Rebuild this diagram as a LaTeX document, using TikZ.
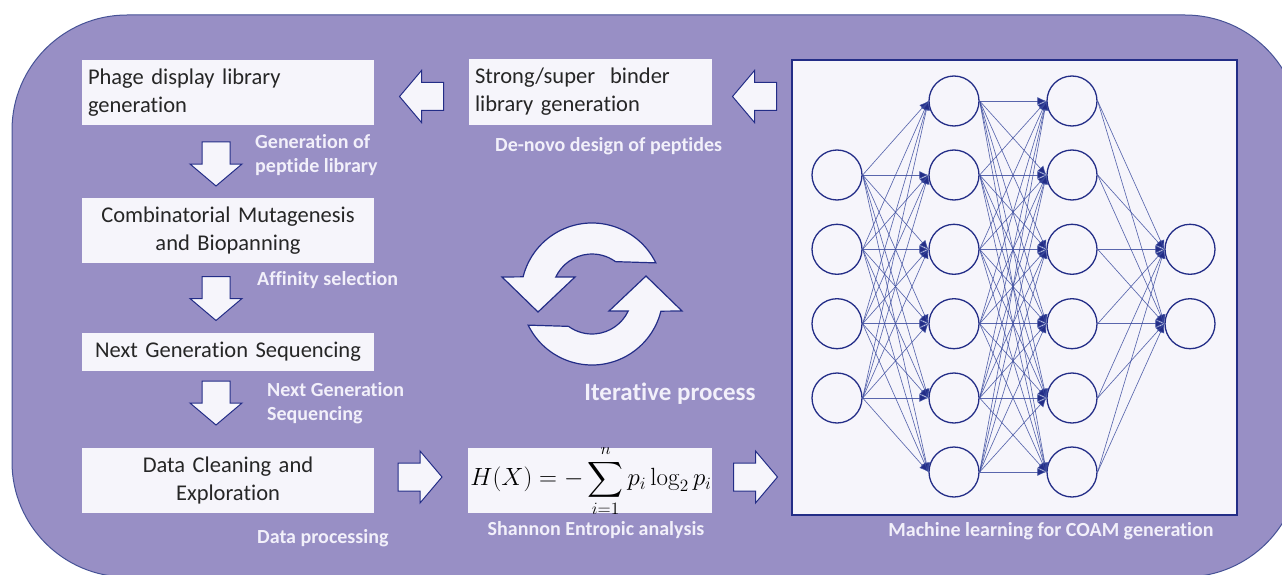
\documentclass[tikz,border=0pt]{standalone}
\usepackage{exscale}
\usepackage{graphicx}
\usepackage[no-math]{fontspec}
\setmainfont{Carlito}[Ligatures=NoCommon]
\usetikzlibrary{arrows.meta,calc}
\definecolor{bgpurple}{RGB}{152,143,197}
\definecolor{bgedge}{RGB}{70,82,150}
\definecolor{boxwhite}{RGB}{246,245,251}
\definecolor{navy}{RGB}{35,45,135}
\definecolor{edgeblue}{RGB}{62,78,160}
\definecolor{labelwhite}{RGB}{242,240,250}
\definecolor{txtgray}{RGB}{38,38,38}
\tikzset{
  x=1pt, y=1pt,
  wbox/.style={fill=boxwhite, draw=none, inner sep=0pt, text=txtgray,
    font=\fontsize{22.5}{28}\selectfont},
  lbl/.style={text=labelwhite, font=\bfseries\fontsize{20}{24}\selectfont,
    inner sep=0pt, align=left},
  neuron/.style={circle, draw=navy, line width=1.3pt, fill=boxwhite,
    minimum size=50pt, inner sep=0pt},
  syn/.style={draw=edgeblue, line width=0.65pt, draw opacity=0.85,
    -{Latex[length=9pt,width=8pt,fill=navy]}},
  blk/.style={fill=boxwhite, draw=navy, line width=1pt, line join=miter},
  pics/barrow/.style={code={
    \draw[blk] (-22,-14) -- (0,-14) -- (0,-26) -- (22,0) -- (0,26) -- (0,14) -- (-22,14) -- cycle;}},
}
\begin{document}
\begin{tikzpicture}
\useasboundingbox (0,0) rectangle (1282,-575);
\clip (0,0) rectangle (1282,-575);
% background panel
\draw[fill=bgpurple, draw=bgedge, line width=1pt, rounded corners=115pt]
  (12,-15) rectangle (1300,-577);

% white boxes
\node[wbox, minimum width=292pt, minimum height=65pt, text width=280pt, align=left]
  (phage) at (228,-92.5) {Phage display library\\generation};
\node[wbox, minimum width=243pt, minimum height=66pt, text width=231pt, align=left]
  (strong) at (590.5,-92) {Strong/super~~binder\\library generation};
\node[wbox, minimum width=292pt, minimum height=65pt, text width=292pt, align=center]
  (comb) at (228,-230.5) {Combinatorial Mutagenesis\\and Biopanning};
\node[wbox, minimum width=292pt, minimum height=38pt, text width=292pt, align=center]
  (ngs) at (228,-352) {Next Generation Sequencing};
\node[wbox, minimum width=292pt, minimum height=65pt, text width=292pt, align=center]
  (clean) at (228,-480.5) {Data Cleaning and\\Exploration};
\node[wbox, minimum width=244pt, minimum height=65pt] (formbox) at (590,-480.5) {};
\begin{scope}
  \clip (formbox.south west) rectangle (formbox.north east);
  \node[inner sep=0pt, text=black] (entropy) at (591,-481)
    {\fontsize{20.74}{25}\selectfont\scalebox{1.2}[1.2]{$\displaystyle H(X) = -\sum_{i=1}^{n} p_i \log_2 p_i$}};
\end{scope}

% block arrows
\pic[rotate=180] (la1) at (421.5,-96.5) {barrow};
\pic[rotate=180] (la2) at (754.5,-96.5) {barrow};
\pic[rotate=-90] (da1) at (216,-164) {barrow};
\pic[rotate=-90] (da2) at (216,-298.5) {barrow};
\pic[rotate=-90] (da3) at (216,-403) {barrow};
\pic (ra1) at (420,-477) {barrow};
\pic (ra2) at (755.5,-477) {barrow};

% cycle arrows
\coordinate (cyc) at (592,-294);
\draw[blk, line width=1.2pt] ($(cyc)+(26:71)$) arc[start angle=26, end angle=166, radius=71pt]
  -- ($(cyc)+(-90,17)$) -- ($(cyc)+(-54,-18)$) -- ($(cyc)+(-17,17)$)
  -- ($(cyc)+(155:40)$) arc[start angle=155, end angle=54, radius=40pt] -- cycle;
\draw[blk, line width=1.2pt] ($(cyc)+(206:71)$) arc[start angle=206, end angle=346, radius=71pt]
  -- ($(cyc)+(90,-17)$) -- ($(cyc)+(54,18)$) -- ($(cyc)+(17,-17)$)
  -- ($(cyc)+(335:40)$) arc[start angle=335, end angle=234, radius=40pt] -- cycle;

% labels
\node[lbl, anchor=west] (genlbl) at (255,-155) {Generation of\\peptide library};
\node[lbl, anchor=west] (denovo) at (495,-146) {De-novo design of peptides};
\node[lbl, anchor=west] (afflbl) at (257,-280) {Affinity selection};
\node[lbl, anchor=west] (ngslbl) at (267,-403) {Next Generation\\Sequencing};
\node[lbl, anchor=west] (dplbl) at (257,-538) {Data processing};
\node[lbl] (shlbl) at (596,-530) {Shannon Entropic analysis};
\node[lbl] (mllbl) at (1051,-531) {Machine learning for COAM generation};
\node[lbl, font=\bfseries\fontsize{25}{30}\selectfont] (iter) at (670,-394) {Iterative process};

% neural network
\node[fill=boxwhite, draw=navy, line width=1.5pt, minimum width=445pt, minimum height=455pt,
  inner sep=0pt] (nnbox) at (1014.5,-287.5) {};
\foreach \i/\yy in {1/175,2/249.3,3/323.7,4/398}
  \node[neuron] (a\i) at (837,-\yy) {};
\foreach \i/\yy in {1/101,2/175,3/249.3,4/323.7,5/398,6/472} {
  \node[neuron] (b\i) at (954,-\yy) {};
  \node[neuron] (c\i) at (1072,-\yy) {};
}
\foreach \i/\yy in {1/249.3,2/323.7}
  \node[neuron] (d\i) at (1190,-\yy) {};
\foreach \i in {1,...,4}
  \foreach \j in {1,...,6}
    \draw[syn] (a\i.east) -- (b\j.west);
\foreach \i in {1,...,6}
  \foreach \j in {1,...,6}
    \draw[syn] (b\i.east) -- (c\j.west);
\foreach \i in {1,...,6}
  \foreach \j in {1,2}
    \draw[syn] (c\i.east) -- (d\j.west);
\end{tikzpicture}
\end{document}
